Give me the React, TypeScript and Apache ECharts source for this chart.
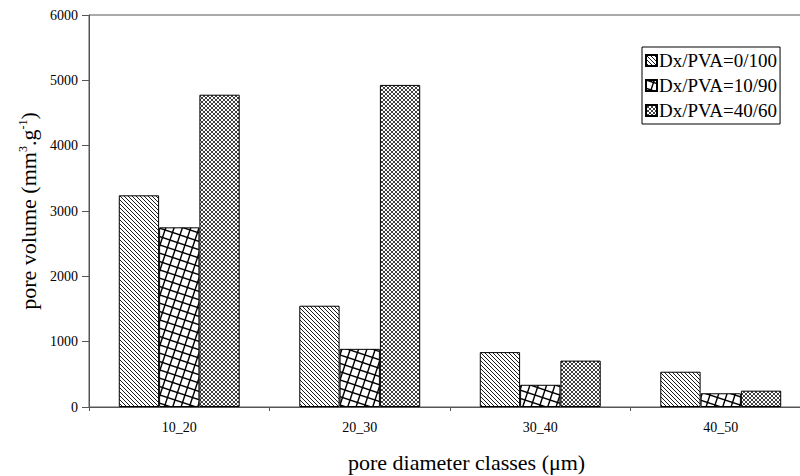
import React, { useEffect, useRef } from "react";
import * as echarts from "echarts";

const categories = ["10_20", "20_30", "30_40", "40_50"];
const seriesNames = ["Dx/PVA=0/100", "Dx/PVA=10/90", "Dx/PVA=40/60"];
const values0_100 = [3240, 1550, 840, 540];
const values10_90 = [2750, 890, 340, 210];
const values40_60 = [4780, 4930, 710, 250];
const yTicks = [0, 1000, 2000, 3000, 4000, 5000, 6000];

function makeCanvas(size: number, draw: (ctx: CanvasRenderingContext2D, s: number) => void) {
  const c = document.createElement("canvas");
  c.width = size;
  c.height = size;
  const ctx = c.getContext("2d")!;
  ctx.fillStyle = "#ffffff";
  ctx.fillRect(0, 0, size, size);
  ctx.strokeStyle = "#000000";
  draw(ctx, size);
  return c;
}

function diagPattern() {
  return makeCanvas(4, (ctx, s) => {
    ctx.lineWidth = 0.9;
    for (let k = -2; k <= 2; k++) {
      ctx.beginPath();
      ctx.moveTo(k * s - 1, -1);
      ctx.lineTo(k * s + s + 1, s + 1);
      ctx.stroke();
    }
  });
}

function gridPattern() {
  return makeCanvas(25, (ctx, s) => {
    ctx.lineWidth = 1.4;
    for (let k = -6; k <= 6; k++) {
      ctx.beginPath();
      ctx.moveTo(s * k + 3 * -5, -5);
      ctx.lineTo(s * k + 3 * (s + 5), s + 5);
      ctx.stroke();
      ctx.beginPath();
      ctx.moveTo(-5, s * k + 15);
      ctx.lineTo(s + 5, s * k - 3 * (s + 5));
      ctx.stroke();
    }
  });
}

function crossPattern() {
  return makeCanvas(4, (ctx, s) => {
    ctx.lineWidth = 0.75;
    for (let k = -2; k <= 2; k++) {
      ctx.beginPath();
      ctx.moveTo(k * s - 1, -1);
      ctx.lineTo(k * s + s + 1, s + 1);
      ctx.stroke();
      ctx.beginPath();
      ctx.moveTo(k * s - 1, s + 1);
      ctx.lineTo(k * s + s + 1, -1);
      ctx.stroke();
    }
  });
}

export default function App() {
  const ref = useRef<HTMLDivElement>(null);
  useEffect(() => {
    document.body.style.margin = "0";
    if (!ref.current) return;
    const chart = echarts.init(ref.current, null, { renderer: "svg" });
    const patterns = [diagPattern(), gridPattern(), crossPattern()];
    const dataSets = [values0_100, values10_90, values40_60];
    const font = "'Liberation Serif', 'Times New Roman', serif";
    const axisColor = "#555555";
    chart.setOption({
      animation: false,
      backgroundColor: "#ffffff",
      textStyle: { fontFamily: font },
      grid: {
        left: 89,
        top: 15,
        width: 722,
        height: 392,
        outerBoundsMode: "none",
        containLabel: false,
        show: true,
        borderColor: axisColor,
        borderWidth: 1,
        backgroundColor: "transparent",
      },
      legend: {
        left: 642,
        top: 47,
        orient: "vertical",
        itemWidth: 11,
        itemHeight: 11,
        itemGap: 6,
        icon: "rect",
        borderColor: "#000",
        borderWidth: 1,
        padding: [4, 3, 4, 3],
        textStyle: { fontFamily: font, fontSize: 19, lineHeight: 19, color: "#000", padding: [0, 0, 0, -3] },
        data: seriesNames,
      },
      xAxis: {
        type: "category",
        data: categories,
        axisLine: { lineStyle: { color: axisColor, width: 1 } },
        axisTick: { show: true, length: 4, lineStyle: { color: axisColor } },
        axisLabel: { fontFamily: font, fontSize: 14, color: "#000", margin: 13 },
        splitLine: { show: false },
      },
      yAxis: {
        type: "value",
        min: 0,
        max: 6000,
        interval: 1000,
        axisLine: { show: true, lineStyle: { color: axisColor, width: 1 } },
        axisTick: { show: true, length: 7, lineStyle: { color: axisColor } },
        axisLabel: {
          fontFamily: font,
          fontSize: 14,
          color: "#000",
          margin: 11,
          formatter: (v: number) => (yTicks.includes(v) ? String(v) : ""),
        },
        splitLine: { show: false },
        name: "pore volume (mm{sup|3}.g{sup|-1})",
        nameLocation: "middle",
        nameGap: 45,
        nameRotate: 90,
        nameTextStyle: {
          fontFamily: font,
          fontSize: 22,
          color: "#000",
          rich: {
            sup: { fontFamily: font, fontSize: 12, color: "#000", verticalAlign: "top", padding: [0, 0, 10, 0] },
          },
        },
      },
      graphic: [
        {
          type: "text",
          left: 348,
          top: 451,
          style: {
            text: "pore diameter classes (\u03bcm)",
            font: "22px 'Liberation Serif', 'Times New Roman', serif",
            fill: "#000",
          },
        },
      ],
      series: seriesNames.map((name, i) => ({
        name,
        type: "bar",
        data: dataSets[i],
        barGap: "0%",
        barCategoryGap: "33%",
        itemStyle: {
          color: { image: patterns[i], repeat: "repeat" },
          borderColor: "#000",
          borderWidth: 1,
        },
        emphasis: { disabled: true },
      })),
    });
    return () => chart.dispose();
  }, []);
  return <div ref={ref} style={{ width: 800, height: 476 }} />;
}
